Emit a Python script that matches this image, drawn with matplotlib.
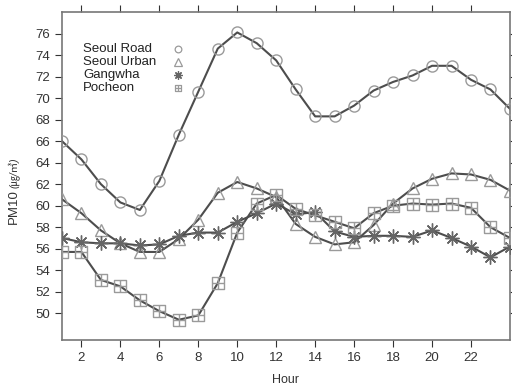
import matplotlib
matplotlib.use("Agg")
import matplotlib.pyplot as plt
from matplotlib.path import Path

# hourly mean PM10 by site
hours = list(range(1, 25))
seoul_road = [66.0, 64.3, 62.0, 60.3, 59.6, 62.3, 66.6, 70.6, 74.6, 76.1, 75.1, 73.5,
              70.8, 68.3, 68.3, 69.3, 70.7, 71.5, 72.1, 73.0, 73.0, 71.7, 70.8, 69.0]
seoul_urban = [60.6, 59.3, 57.7, 56.5, 55.7, 55.7, 56.9, 58.7, 61.2, 62.2, 61.6, 60.8,
               58.3, 57.1, 56.4, 56.6, 58.2, 60.2, 61.6, 62.5, 63.0, 62.9, 62.4, 61.4]
gangwha = [57.0, 56.6, 56.5, 56.5, 56.3, 56.4, 57.2, 57.5, 57.5, 58.5, 59.3, 60.2,
           59.2, 59.4, 57.6, 57.1, 57.2, 57.2, 57.1, 57.7, 57.0, 56.2, 55.2, 56.2]
pocheon = [55.7, 55.7, 53.1, 52.5, 51.2, 50.2, 49.4, 49.8, 52.8, 57.5, 60.2, 61.0,
           59.7, 59.1, 58.5, 57.9, 59.3, 60.0, 60.2, 60.1, 60.2, 59.8, 58.0, 57.0]

labels = ["Seoul Road", "Seoul Urban", "Gangwha", "Pocheon"]

# square with a cross inside
M, L = Path.MOVETO, Path.LINETO
box_plus = Path([(-1, -1), (1, -1), (1, 1), (-1, 1), (-1, -1), (0, -1), (0, 1), (-1, 0), (1, 0)],
                [M, L, L, L, L, M, L, M, L])

plt.rcParams['font.family'] = ['Liberation Sans', 'Noto Sans CJK KR', 'DejaVu Sans']

fig = plt.figure(figsize=(5.12, 3.87), dpi=100)
ax = fig.add_axes([0.121, 0.121, 0.875, 0.848])

line_c = '#4d4d4d'
mark_c = '#9a9a9a'
series = [(seoul_road, 'o', 8, mark_c), (seoul_urban, '^', 9, mark_c),
          (gangwha, (8, 2, 0), 10, '#666666'), (pocheon, box_plus, 8, mark_c)]

for vals, mk, ms, mc in series:
    ax.plot(hours, vals, color=line_c, lw=1.5, zorder=2)
    ax.plot(hours, vals, ls='none', marker=mk, ms=ms, mfc='none', mec=mc, mew=1.0, zorder=3)

# legend: names on the left, small markers on the right
for i, (name, (vals, mk, ms, mc)) in enumerate(zip(labels, series)):
    y = 0.887 - i * 0.04
    ax.text(0.047, y, name, transform=ax.transAxes, fontsize=9.5, color='#222222',
            ha='left', va='center')
    ax.plot([0.259], [y], transform=ax.transAxes, ls='none', marker=mk, ms=ms * 0.6,
            mfc='none', mec=mc, mew=0.9)

ax.set_xlim(1, 24)
ax.set_ylim(47.5, 78)
ax.set_xticks(range(2, 24, 2))
ax.set_yticks(range(50, 77, 2))
ax.tick_params(direction='out', length=5, labelsize=9.5, colors='#333333',
               top=True, right=True, labeltop=False, labelright=False)
for s in ax.spines.values():
    s.set_color('#777777')
    s.set_linewidth(1.2)

ax.set_xlabel("Hour", fontsize=9, color='#333333', labelpad=7)

# y label: "PM10" followed by a smaller italic unit
t1 = ax.text(-0.107, 0.355, "PM10", transform=ax.transAxes, rotation=90, fontsize=9.5,
             color='#333333', ha='left', va='center', rotation_mode='anchor')
fig.canvas.draw()
bb = t1.get_window_extent().transformed(ax.transAxes.inverted())
ax.text(-0.107, bb.y1 + 0.003, "(㎍/㎥)", transform=ax.transAxes, rotation=90, fontsize=7.5,
        style='italic', color='#333333', ha='left', va='center', rotation_mode='anchor')

fig.savefig("out.png", dpi=100)
